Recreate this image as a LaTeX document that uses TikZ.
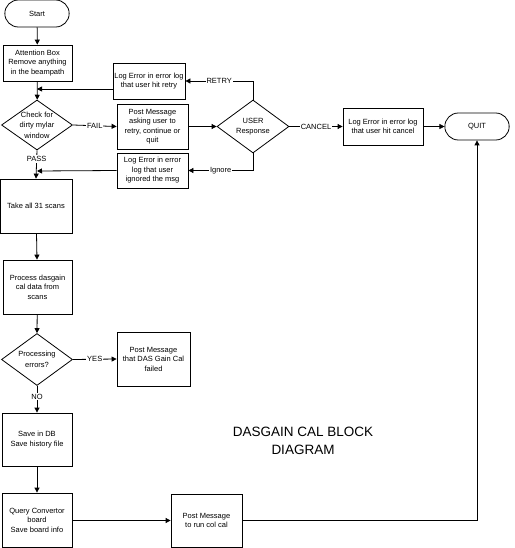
\documentclass[tikz,border=0pt]{standalone}
\usepackage{fontspec}
\setmainfont{Liberation Sans}
\usepackage{tikz}
\usetikzlibrary{positioning,arrows.meta,shapes.geometric,shapes.misc}

\begin{document}
\begin{tikzpicture}[x=1pt,y=-1pt,line width=0.8pt,
  box/.style={draw,rectangle,align=center,inner sep=1pt,font=\fontsize{7.5}{9.5}\selectfont},
  term/.style={draw,rounded rectangle,minimum width=71pt,minimum height=27pt,font=\fontsize{7.5}{9.5}\selectfont},
  dectext/.style={align=center,inner sep=0pt,font=\fontsize{7.5}{10.5}\selectfont},
  decision/.style={draw,diamond,inner sep=0pt,minimum width=71pt,minimum height=52pt,label={[dectext]center:#1}},
  lbl/.style={fill=white,inner sep=1pt,font=\fontsize{7.5}{9}\selectfont},
  arrow/.style={-{Triangle[length=5pt,width=5pt]}}]
\useasboundingbox (0,0) rectangle (514,548);
% main column
\node[term] (start) at (37,13.5) {Start};
\node[box,minimum width=69pt,minimum height=36pt] (attn) at (37.5,63) {Attention Box\\Remove anything\\in the beampath};
\node[decision={Check for\\dirty mylar\\window},minimum height=50pt] (check) at (37,125) {};
\node[box,minimum width=72pt,minimum height=54pt] (take) at (36,206) {Take all 31 scans};
\node[box,minimum width=69pt,minimum height=54pt] (process) at (37.5,287) {Process dasgain\\cal data from\\scans};
\node[decision={Processing\\errors?}] (perr) at (37,359.5) {};
\node[box,minimum width=70pt,minimum height=53pt] (save) at (37,439.5) {Save in DB\\Save history file};
\node[box,minimum width=70pt,minimum height=54pt] (query) at (37,520) {Query Convertor\\board\\Save board info};
% user response loop
\node[box,minimum width=72pt,minimum height=36pt] (retrylog) at (149,81) {Log Error in error log\\that user hit retry};
\node[box,minimum width=71pt,minimum height=45pt] (postmsg) at (152.5,126.5) {Post Message\\asking user to\\retry, continue or\\quit};
\node[box,minimum width=71pt,minimum height=35pt] (ignorelog) at (152.5,170.5) {Log Error in error\\log that user\\ignored the msg};
\node[decision={USER\\Response},minimum width=72pt,minimum height=53pt] (user) at (253,126.5) {};
\node[box,minimum width=80pt,minimum height=37pt] (cancellog) at (383,126.5) {Log Error in error log\\that user hit cancel};
\node[term] (quit) at (477,126.5) {QUIT};
% messages
\node[box,minimum width=73pt,minimum height=54pt] (failmsg) at (153.5,359) {Post Message\\that DAS Gain Cal\\failed};
\node[box,minimum width=71pt,minimum height=53pt] (runmsg) at (206.5,520.5) {Post Message\\to run col cal};
% title
\node[align=center,font=\fontsize{13.5}{18}\selectfont] (title) at (303,441) {DASGAIN CAL BLOCK\\DIAGRAM};
% joins on the main line
\coordinate (retryjoin) at (37,89);
\coordinate (ignorejoin) at (37,171);
% connectors
\draw[arrow] (start) -- (attn);
\draw[arrow] (attn) -- (check);
\draw[arrow] ([yshift=-8pt]retrylog.west) -- (retryjoin);
\draw[arrow] (check.east) -- node[lbl]{FAIL} (postmsg.west);
\draw[arrow] (postmsg) -- (user.west);
\draw[arrow] (user.north) |- node[lbl,pos=0.75]{RETRY} (retrylog.east);
\draw[arrow] (user.south) |- node[lbl,pos=0.75]{Ignore} (ignorelog.east);
\draw[arrow] (ignorelog.west) -- (ignorejoin);
\draw[arrow] (user.east) -- node[lbl]{CANCEL} (cancellog.west);
\draw[arrow] (cancellog) -- (quit.west);
\draw[arrow] (check.south) -- node[lbl,pos=0.3]{PASS} (take.north);
\draw[arrow] (take) -- (process);
\draw[arrow] (process) -- (perr.north);
\draw[arrow] (perr.east) -- node[lbl]{YES} (failmsg.west);
\draw[arrow] (perr.south) -- node[lbl,pos=0.4]{NO} (save.north);
\draw[arrow] (save) -- (query);
\draw[arrow] (query.east |- runmsg.west) -- (runmsg.west);
\draw[arrow] (runmsg.east) -| (quit.south);
\end{tikzpicture}
\end{document}
